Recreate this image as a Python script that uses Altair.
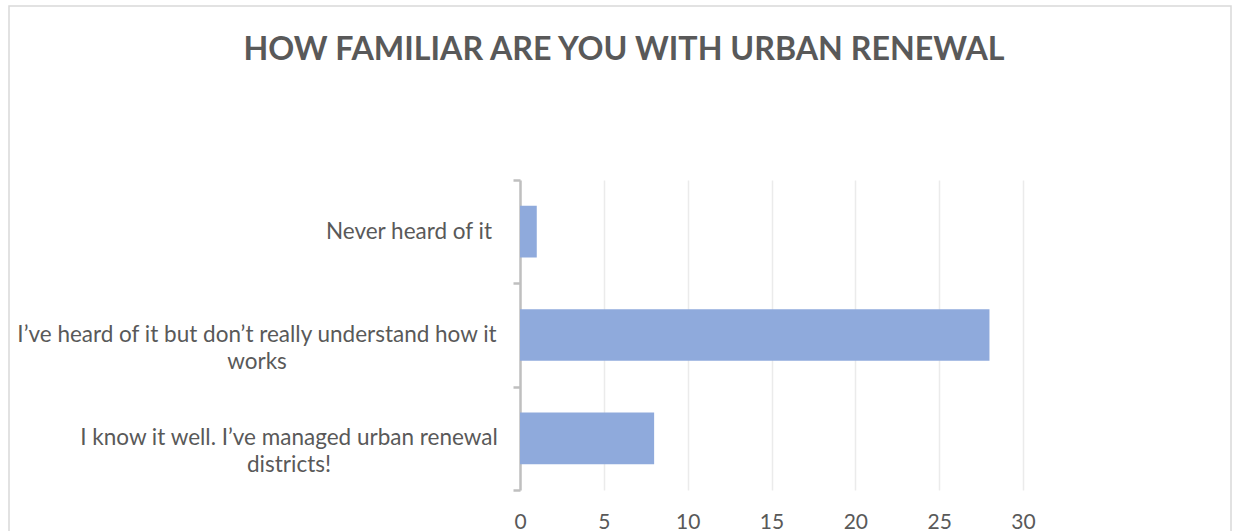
import altair as alt
import pandas as pd

categories = [
    "Never heard of it",
    "I’ve heard of it but don’t really understand how it\nworks",
    "I know it well. I’ve managed urban renewal\ndistricts!",
]
counts = [1, 28, 8]
x_ticks = [0, 5, 10, 15, 20, 25, 30]
title_text = "HOW FAMILIAR ARE YOU WITH URBAN RENEWAL"

df = pd.DataFrame({"answer": categories, "count": counts})
one = pd.DataFrame({"k": [0]})

FONT = "Lato"
GREY = "#595959"
LABEL_SIZE = 22.5
# horizontal centre of each category label block, pixels left of the axis
label_centres = [-111, -263, -231]

y_enc = alt.Y(
    "answer:N",
    sort=categories,
    scale=alt.Scale(paddingInner=0, paddingOuter=0),
    axis=alt.Axis(
        title=None, grid=False, labels=False, domainColor="#bfbfbf",
        domainWidth=2.5, tickColor="#bfbfbf", tickWidth=2.5, tickSize=7,
        tickBand="extent",
    ),
)

bars = alt.Chart(df).mark_bar(
    color="#8FAADC", height=alt.RelativeBandSize(band=0.5)
).encode(
    x=alt.X(
        "count:Q",
        scale=alt.Scale(domain=[0, 30], nice=False),
        axis=alt.Axis(
            values=x_ticks, title=None, domain=False, ticks=False, grid=True,
            gridColor="#ebebeb", gridWidth=1.5, labelFont=FONT, labelFontSize=21,
            labelColor=GREY, labelPadding=21, labelFlush=False,
        ),
    ),
    y=y_enc,
)

label_layers = []
for cat, cx in zip(categories, label_centres):
    label_layers.append(
        alt.Chart(df).transform_filter(alt.datum.answer == cat).mark_text(
            align="center", baseline="middle", lineBreak="\n", lineHeight=27,
            font=FONT, fontSize=LABEL_SIZE, color=GREY,
        ).encode(y=y_enc, text="answer:N", x=alt.value(cx))
    )

frame = alt.Chart(one).mark_rect(
    fillOpacity=0, stroke="#d9d9d9", strokeWidth=1.5
).encode(
    x=alt.value(-511), x2=alt.value(711), y=alt.value(-174), y2=alt.value(380)
)

title = alt.Chart(one).mark_text(
    align="center", baseline="alphabetic", font=FONT, fontSize=32.2,
    fontWeight="bold", color=GREY,
).encode(text=alt.value(title_text), x=alt.value(104), y=alt.value(-120))

chart = alt.layer(frame, bars, *label_layers, title).properties(
    width=503,
    height=310,
    autosize="none",
    padding={"left": 520, "top": 180, "right": 210, "bottom": 41},
    background="white",
).configure_view(strokeWidth=0)

chart.save("out.html", embed_options={"renderer": "svg", "actions": False})
